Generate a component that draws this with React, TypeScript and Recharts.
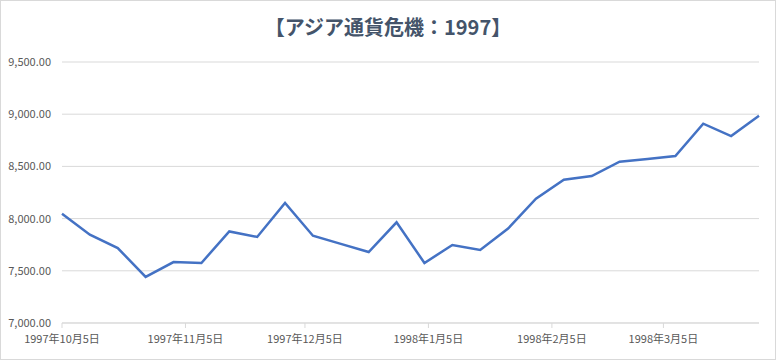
import React from 'react';
import { LineChart, Line, XAxis, YAxis, CartesianGrid } from 'recharts';

// weekly closing values, Oct 1997 - Mar 1998
const dates = [
  '1997-10-05', '1997-10-12', '1997-10-19', '1997-10-26', '1997-11-02', '1997-11-09',
  '1997-11-16', '1997-11-23', '1997-11-30', '1997-12-07', '1997-12-14', '1997-12-21',
  '1997-12-28', '1998-01-04', '1998-01-11', '1998-01-18', '1998-01-25', '1998-02-01',
  '1998-02-08', '1998-02-15', '1998-02-22', '1998-03-01', '1998-03-08', '1998-03-15',
  '1998-03-22', '1998-03-29',
];
const values = [
  8047, 7846, 7718, 7441, 7584, 7575,
  7877, 7824, 8149, 7836, 7758, 7680,
  7964, 7575, 7747, 7699, 7905, 8191,
  8373, 8408, 8545, 8572, 8600, 8909,
  8791, 8986,
];
const xTickDates = ['1997-10-05', '1997-11-05', '1997-12-05', '1998-01-05', '1998-02-05', '1998-03-05'];
const yTicks = [7000, 7500, 8000, 8500, 9000, 9500];

const toTime = (s: string) => Date.parse(s + 'T00:00:00Z');

const chartData = dates.map((d, i) => ({ t: toTime(d), value: values[i] }));
const xTicks = xTickDates.map(toTime);

const font = '"Noto Sans CJK JP", "Noto Sans", sans-serif';

const fmtDate = (t: number) => {
  const d = new Date(t);
  return `${d.getUTCFullYear()}年${d.getUTCMonth() + 1}月${d.getUTCDate()}日`;
};
const fmtValue = (v: number) =>
  v.toLocaleString('en-US', { minimumFractionDigits: 2, maximumFractionDigits: 2 });

export default function App() {
  return (
    <div style={{ position: 'relative', width: 776, height: 360, background: '#fff', fontFamily: font }}>
      <style>{'body{margin:0}'}</style>
      <div
        style={{
          position: 'absolute', top: 13, left: 0, width: 776, textAlign: 'center',
          fontSize: 20, fontWeight: 'bold', color: '#44546A', lineHeight: '28px',
        }}
      >
        【アジア通貨危機：1997】
      </div>
      <LineChart width={776} height={360} data={chartData} margin={{ top: 62, right: 17, bottom: 7, left: 0 }}>
        <CartesianGrid vertical={false} stroke="#D9D9D9" />
        <XAxis
          dataKey="t"
          type="number"
          scale="time"
          domain={[toTime(dates[0]), toTime(dates[dates.length - 1])]}
          ticks={xTicks}
          tickFormatter={fmtDate}
          height={30}
          stroke="#D9D9D9"
          tickSize={5}
          tickMargin={7}
          tick={{ fill: '#595959', fontSize: 11, fontFamily: font }}
          interval={0}
        />
        <YAxis
          domain={[7000, 9500]}
          ticks={yTicks}
          tickFormatter={fmtValue}
          width={62}
          axisLine={false}
          tickLine={false}
          tickSize={0}
          tickMargin={11}
          tick={{ fill: '#595959', fontSize: 11, fontFamily: font }}
        />
        <Line
          type="linear"
          dataKey="value"
          stroke="#4472C4"
          strokeWidth={2.5}
          dot={false}
          isAnimationActive={false}
        />
      </LineChart>
      <div
        style={{
          position: 'absolute', left: 0, top: 0, width: 776, height: 360,
          boxSizing: 'border-box', border: '1px solid #D9D9D9', pointerEvents: 'none',
        }}
      />
    </div>
  );
}
